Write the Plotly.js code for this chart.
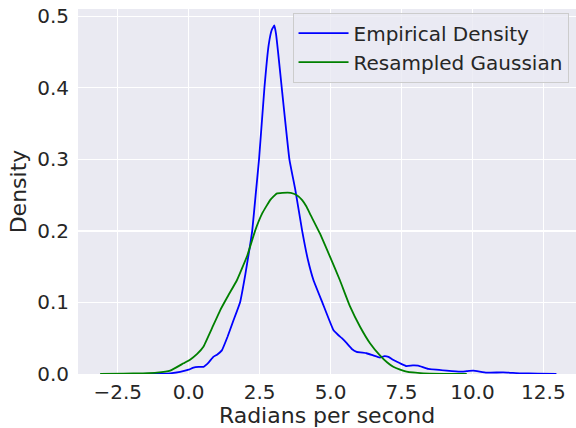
<!DOCTYPE html>
<html>
<head>
<meta charset="utf-8">
<script src="https://cdn.plot.ly/plotly-3.0.1.min.js"></script>
<style>html,body{margin:0;padding:0;background:#fff;}#chart{width:576px;height:428px;}</style>
</head>
<body>
<div id="chart"></div>
<script>
const empiricalX = [-1.7,-1.0,-0.65,-0.3,0.0,0.17,0.35,0.52,0.7,0.87,1.0,1.17,1.37,1.58,1.81,2.0,2.12,2.24,2.36,2.48,2.67,2.82,2.93,3.02,3.08,3.15,3.28,3.55,3.76,4.0,4.2,4.40,4.71,5.10,5.27,5.40,5.57,5.75,5.92,6.27,6.5,6.74,6.9,7.04,7.2,7.45,7.68,7.9,8.09,8.44,9.09,9.56,9.8,10.03,10.5,11.08,11.67,12.3,12.96];
const empiricalY = [0.0,0.0005,0.001,0.003,0.006,0.009,0.010,0.010,0.016,0.024,0.027,0.033,0.052,0.075,0.100,0.140,0.169,0.200,0.250,0.300,0.400,0.460,0.481,0.487,0.475,0.450,0.400,0.300,0.257,0.200,0.160,0.131,0.100,0.0615,0.0545,0.050,0.043,0.035,0.031,0.029,0.026,0.023,0.025,0.024,0.020,0.015,0.011,0.012,0.0116,0.007,0.0046,0.0032,0.004,0.0046,0.0018,0.0023,0.001,0.0005,0.0];
const gaussX = [-3.12,-2.3,-1.6,-1.12,-0.65,-0.18,0.05,0.3,0.52,0.8,1.11,1.40,1.70,2.07,2.34,2.6,2.87,3.1,3.3,3.6,3.8,4.0,4.15,4.3,4.63,4.98,5.33,5.69,6.04,6.39,6.74,7.0,7.21,7.45,7.68,8.27,9.0,9.8];
const gaussY = [0.0,0.0006,0.001,0.0018,0.0046,0.015,0.020,0.028,0.038,0.062,0.089,0.110,0.131,0.166,0.200,0.225,0.243,0.252,0.253,0.253,0.250,0.243,0.234,0.222,0.196,0.164,0.131,0.094,0.066,0.043,0.026,0.016,0.010,0.006,0.0032,0.001,0.0003,0.0];
const seriesNames = ['Empirical Density','Resampled Gaussian'];
const xTitle = 'Radians per second';
const yTitle = 'Density';

const font = 'DejaVu Sans, sans-serif';
const traces = [
  {x: empiricalX, y: empiricalY, name: seriesNames[0], mode: 'lines', type: 'scatter',
   line: {color: '#0000ff', width: 1.8, shape: 'spline', smoothing: 0.3}},
  {x: gaussX, y: gaussY, name: seriesNames[1], mode: 'lines', type: 'scatter',
   line: {color: '#008000', width: 1.8, shape: 'spline', smoothing: 0.3}}
];
const layout = {
  width: 576, height: 428,
  margin: {l: 78, r: 0, t: 9, b: 54, pad: 0},
  paper_bgcolor: '#ffffff',
  plot_bgcolor: '#EAEAF2',
  font: {family: font, color: '#262626', size: 20},
  showlegend: true,
  legend: {x: 0.985, y: 0.99, xanchor: 'right', yanchor: 'top', itemwidth: 50,
           bgcolor: 'rgba(234,234,242,0.8)', bordercolor: '#cccccc', borderwidth: 1,
           font: {family: font, size: 20, color: '#262626'}},
  xaxis: {range: [-3.9, 13.65], dtick: 2.5, tick0: 0, tickformat: '.1f',
          showgrid: true, gridcolor: '#ffffff', gridwidth: 1.3, zeroline: false,
          showline: false, ticks: '', ticklabelstandoff: 4, tickfont: {size: 20, color: '#262626'},
          title: {text: xTitle, font: {size: 22, color: '#262626'}, standoff: 2}},
  yaxis: {range: [0, 0.51], dtick: 0.1, tick0: 0, tickformat: '.1f',
          showgrid: true, gridcolor: '#ffffff', gridwidth: 1.3, zeroline: false,
          showline: false, ticks: '', ticklabelstandoff: 8, tickfont: {size: 20, color: '#262626'},
          title: {text: yTitle, font: {size: 22, color: '#262626'}, standoff: 4}}
};
Plotly.newPlot('chart', traces, layout, {displayModeBar: false, staticPlot: true});
</script>
</body>
</html>
